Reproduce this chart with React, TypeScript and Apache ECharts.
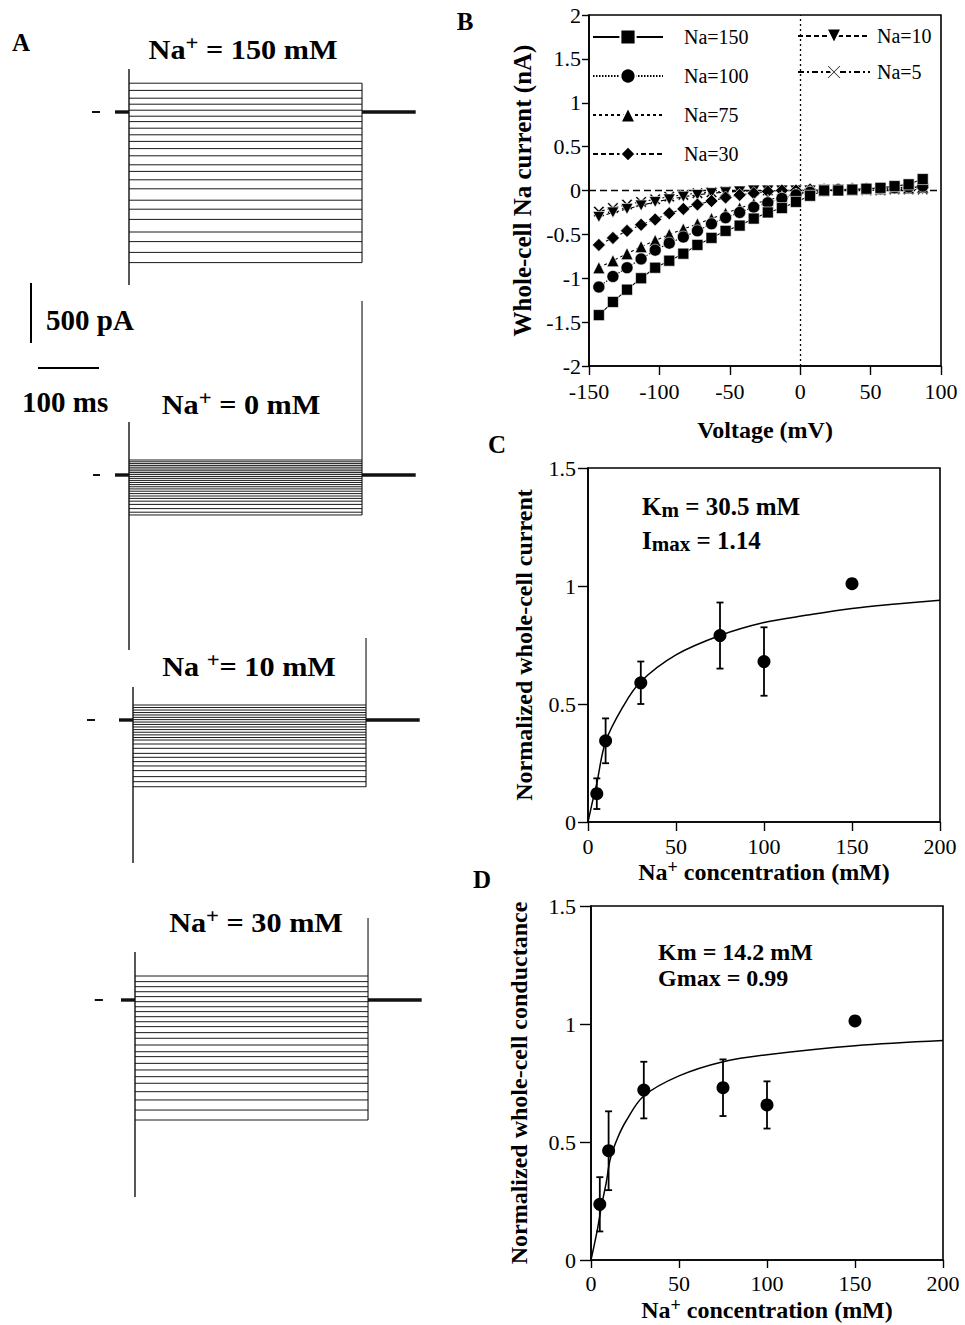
import React, { useEffect, useRef } from "react";
import * as echarts from "echarts";

const FONT = "'Liberation Serif', 'Times New Roman', Times, serif";

// ---------------- Panel B : current-voltage relations (nA) ----------------
const VOLTAGES = [-143, -133, -123, -113, -103, -93, -83, -73, -63, -53, -43, -33, -23, -13, -3, 7, 17, 27, 37, 47, 57, 67, 77, 87];
const I_NA150 = [-1.42, -1.27, -1.13, -1.0, -0.88, -0.8, -0.72, -0.62, -0.54, -0.46, -0.4, -0.32, -0.25, -0.2, -0.13, -0.06, 0.0, 0.0, 0.01, 0.02, 0.03, 0.05, 0.07, 0.13];
const I_NA100 = [-1.1, -0.98, -0.88, -0.78, -0.68, -0.6, -0.53, -0.46, -0.38, -0.31, -0.25, -0.19, -0.14, -0.09, -0.05, -0.02, 0.0, 0.01, 0.01, 0.02, 0.02, 0.03, 0.04, 0.05];
const I_NA75 = [-0.88, -0.8, -0.72, -0.64, -0.57, -0.5, -0.44, -0.38, -0.32, -0.26, -0.2, -0.15, -0.11, -0.07, -0.04, -0.01, 0.0, 0.01, 0.01, 0.02, 0.02, 0.03, 0.03, 0.04];
const I_NA30 = [-0.62, -0.54, -0.46, -0.39, -0.33, -0.26, -0.21, -0.16, -0.12, -0.08, -0.05, -0.03, -0.01, 0.0, 0.0, 0.01, 0.01, 0.01, 0.02, 0.02, 0.02, 0.03, 0.03, 0.03];
const I_NA10 = [-0.3, -0.25, -0.21, -0.17, -0.13, -0.1, -0.07, -0.05, -0.03, -0.02, -0.01, 0.0, 0.0, 0.0, 0.0, 0.0, 0.01, 0.01, 0.01, 0.01, 0.01, 0.02, 0.02, 0.02];
const I_NA5 = [-0.24, -0.2, -0.16, -0.13, -0.1, -0.07, -0.05, -0.03, -0.02, -0.01, -0.01, 0.0, 0.0, 0.0, 0.0, 0.0, 0.0, 0.0, 0.0, 0.0, 0.0, 0.01, 0.01, 0.01];

// ---------------- Panel C : normalized current ----------------
const CONC = [5, 10, 30, 75, 100, 150];
const CURRENT_MEAN = [0.12, 0.344, 0.59, 0.79, 0.68, 1.01];
const CURRENT_ERR = [0.065, 0.095, 0.09, 0.14, 0.145, 0];
const FIT_C_X = [0, 2.5, 5, 10, 20, 30, 50, 75, 100, 125, 150, 175, 200];
const FIT_C_Y = [0, 0.085, 0.164, 0.34, 0.49, 0.595, 0.708, 0.79, 0.845, 0.877, 0.905, 0.924, 0.94];

// ---------------- Panel D : normalized conductance ----------------
const COND_MEAN = [0.236, 0.463, 0.72, 0.73, 0.657, 1.013];
const COND_ERR = [0.115, 0.167, 0.12, 0.12, 0.1, 0];
const FIT_D_X = [0, 3.4, 6, 8.7, 11, 15, 20, 30, 50, 75, 100, 150, 200];
const FIT_D_Y = [0, 0.12, 0.23, 0.33, 0.43, 0.515, 0.59, 0.695, 0.78, 0.84, 0.87, 0.908, 0.93];

// ---------------- Panel A : current traces (pA, relative to holding) ----------------
const TRACES_NA150 = [240, 180, 115, 65, 15, -35, -80, -135, -190, -245, -305, -365, -440, -495, -565, -640, -735, -810, -895, -1000, -1080, -1170, -1255];
const TRACES_NA0 = [125, 110, 95, 80, 65, 50, 35, 20, 5, -12, -28, -45, -62, -80, -98, -116, -135, -155, -175, -195, -218, -245, -280, -310, -333];
const TRACES_NA10 = [125, 104, 83, 62, 42, 22, 3, -17, -37, -58, -80, -102, -124, -146, -167, -200, -236, -278, -311, -347, -383, -422, -472, -514, -556];
const TRACES_NA30 = [200, 153, 111, 69, 28, -14, -56, -97, -139, -181, -222, -272, -319, -375, -431, -472, -528, -583, -639, -694, -764, -833, -917, -1000];
const SPIKE_NA150 = [358, -1442];
const SPIKE_NA0 = [442, -1458];
const SPIKE_NA10 = [275, -1192];
const SPIKE_NA30 = [400, -1642];
const OFFSPIKE_NA0 = 1450;
const OFFSPIKE_NA10 = 683;
const OFFSPIKE_NA30 = 683;
const ZERO_MARK_NA150 = [-35.7, -22.5];
const ZERO_MARK_NA0 = [-34, -22.5];
const ZERO_MARK_NA10 = [-50.4, -37.3];
const ZERO_MARK_NA30 = [-41, -27.6];
const T_PRE = 2; // ms
const T_ON = 25;
const T_OFF = 407;
const T_POST = 495;
const SCALE_PA = 500;
const SCALE_MS = 100;

// layout constants (pixels)
const PX_PER_MS = 0.61;
const PX_PER_PA = 0.12;
const A_XMIN = -60;
const A_XMAX = 500;

const X_PATH = "path://M0,1.2 L1.2,0 L5,3.8 L8.8,0 L10,1.2 L6.2,5 L10,8.8 L8.8,10 L5,6.2 L1.2,10 L0,8.8 L3.8,5 Z";
const DOWN_TRI = "path://M0,0 L10,0 L5,9 Z";

const RICH_TITLE = {
  b: { fontFamily: FONT, fontSize: 28, fontWeight: "bold", fill: "#000", color: "#000", lineHeight: 30, verticalAlign: "bottom" },
  sup: { fontFamily: FONT, fontSize: 21, fontWeight: "bold", fill: "#000", color: "#000", lineHeight: 21, padding: [0, 0, 9, 0], verticalAlign: "top" },
};
const RICH_NAME = {
  b: { fontFamily: FONT, fontSize: 24, fontWeight: "bold", color: "#000", lineHeight: 26, verticalAlign: "bottom" },
  sup: { fontFamily: FONT, fontSize: 18, fontWeight: "bold", color: "#000", lineHeight: 18, padding: [0, 0, 9, 0], verticalAlign: "top" },
};
const RICH_SUB = {
  b: { fontFamily: FONT, fontSize: 25, fontWeight: "bold", fill: "#000", color: "#000", lineHeight: 26, verticalAlign: "top" },
  sub: { fontFamily: FONT, fontSize: 21, fontWeight: "bold", fill: "#000", color: "#000", lineHeight: 21, padding: [11, 0, 0, 0], verticalAlign: "bottom" },
};

function valueAxis(o: any) {
  return {
    type: "value",
    gridIndex: o.grid,
    min: o.min,
    max: o.max,
    interval: o.interval,
    name: o.name,
    nameLocation: "middle",
    nameGap: o.nameGap,
    nameTextStyle: { fontFamily: FONT, fontSize: o.nameSize || 24, fontWeight: "bold", color: "#000", rich: RICH_NAME },
    axisLine: { show: true, onZero: false, lineStyle: { color: "#000", width: 1.6 } },
    axisTick: { show: true, inside: false, length: o.tickLen, lineStyle: { color: "#000", width: 1.4 } },
    axisLabel: { fontFamily: FONT, fontSize: 22, color: "#000", margin: o.labelMargin },
    splitLine: { show: false },
  };
}

function errRender(params: any, api: any) {
  const x = api.value(0);
  const top = api.coord([x, api.value(2)]);
  const bot = api.coord([x, api.value(1)]);
  const w = 3.5;
  const st = { stroke: "#000", lineWidth: 1.8 };
  return {
    type: "group",
    children: [
      { type: "line", shape: { x1: top[0], y1: top[1], x2: bot[0], y2: bot[1] }, style: st },
      { type: "line", shape: { x1: top[0] - w, y1: top[1], x2: top[0] + w, y2: top[1] }, style: st },
      { type: "line", shape: { x1: bot[0] - w, y1: bot[1], x2: bot[0] + w, y2: bot[1] }, style: st },
    ],
  };
}

function textEl(text: string, x: number, y: number, size: number, align = "left", extra: any = {}) {
  return {
    type: "text",
    x,
    y,
    silent: true,
    ...extra,
    style: {
      text,
      fontFamily: FONT,
      fontSize: size,
      fontWeight: "bold",
      fill: "#000",
      align,
      textAlign: align,
      verticalAlign: "middle",
      textVerticalAlign: "middle",
      ...(extra.style || {}),
    },
  };
}

function buildOption() {
  const grids: any[] = [
    { left: 589, top: 15, width: 352, height: 351 },
    { left: 588, top: 468, width: 352, height: 354 },
    { left: 591, top: 906, width: 352, height: 354 },
  ].map((g) => ({ ...g, show: true, borderColor: "#000", borderWidth: 1.6, backgroundColor: "transparent" }));

  const xAxes: any[] = [
    valueAxis({ grid: 0, min: -150, max: 100, interval: 50, name: "Voltage (mV)", nameGap: 52, tickLen: 9, labelMargin: 14 }),
    valueAxis({ grid: 1, min: 0, max: 200, interval: 50, name: "{b|Na}{sup|+}{b| concentration (mM)}", nameGap: 33, tickLen: 9, labelMargin: 13 }),
    valueAxis({ grid: 2, min: 0, max: 200, interval: 50, name: "{b|Na}{sup|+}{b| concentration (mM)}", nameGap: 36, tickLen: 8, labelMargin: 12 }),
  ];
  const yAxes: any[] = [
    valueAxis({ grid: 0, min: -2, max: 2, interval: 0.5, name: "Whole-cell Na current (nA)", nameGap: 54, tickLen: 7, labelMargin: 8, nameSize: 25 }),
    valueAxis({ grid: 1, min: 0, max: 1.5, interval: 0.5, name: "Normalized whole-cell current", nameGap: 52, tickLen: 10, labelMargin: 12 }),
    valueAxis({ grid: 2, min: 0, max: 1.5, interval: 0.5, name: "Normalized whole-cell conductance", nameGap: 60, tickLen: 11, labelMargin: 15 }),
  ];

  const series: any[] = [];

  // ---- Panel B ----
  const bDefs = [
    { name: "Na=5", data: I_NA5, symbol: X_PATH, size: 11, dash: [6, 3, 2, 3] },
    { name: "Na=10", data: I_NA10, symbol: DOWN_TRI, size: 12, dash: [5, 3] },
    { name: "Na=30", data: I_NA30, symbol: "diamond", size: 13, dash: [5, 3] },
    { name: "Na=75", data: I_NA75, symbol: "triangle", size: 12, dash: [3, 3] },
    { name: "Na=100", data: I_NA100, symbol: "circle", size: 12, dash: [1.5, 1.5] },
    { name: "Na=150", data: I_NA150, symbol: "rect", size: 11, dash: "solid" },
  ];
  bDefs.forEach((d, i) => {
    const s: any = {
      type: "line",
      name: d.name,
      xAxisIndex: 0,
      yAxisIndex: 0,
      data: VOLTAGES.map((v, k) => [v, d.data[k]]),
      symbol: d.symbol,
      symbolSize: d.size,
      symbolKeepAspect: true,
      showSymbol: true,
      color: "#000",
      itemStyle: { color: "#000", borderColor: "#fff", borderWidth: 0.6, opacity: 1 },
      lineStyle: { color: "#000", width: 1.1, type: d.dash },
      silent: true,
      z: 3 + i,
    };
    if (i === 0) {
      s.markLine = {
        silent: true,
        symbol: ["none", "none"],
        label: { show: false },
        z: 1,
        data: [
          { yAxis: 0, lineStyle: { color: "#000", type: [7, 4], width: 1.3 } },
          { xAxis: 0, lineStyle: { color: "#000", type: [2, 3], width: 1.3 } },
        ],
      };
    }
    series.push(s);
  });

  // ---- Panels C & D ----
  const cdDefs = [
    { axis: 1, mean: CURRENT_MEAN, err: CURRENT_ERR, fx: FIT_C_X, fy: FIT_C_Y },
    { axis: 2, mean: COND_MEAN, err: COND_ERR, fx: FIT_D_X, fy: FIT_D_Y },
  ];
  cdDefs.forEach((d) => {
    series.push({
      type: "line",
      xAxisIndex: d.axis,
      yAxisIndex: d.axis,
      data: d.fx.map((x, k) => [x, d.fy[k]]),
      smooth: 0.35,
      symbol: "none",
      lineStyle: { color: "#000", width: 1.5 },
      silent: true,
      z: 2,
    });
    series.push({
      type: "custom",
      xAxisIndex: d.axis,
      yAxisIndex: d.axis,
      data: CONC.map((c, k) => [c, d.mean[k] - d.err[k], d.mean[k] + d.err[k]]).filter((_, k) => d.err[k] > 0),
      encode: { x: 0, y: [1, 2] },
      renderItem: errRender,
      silent: true,
      z: 3,
    });
    series.push({
      type: "scatter",
      xAxisIndex: d.axis,
      yAxisIndex: d.axis,
      data: CONC.map((c, k) => [c, d.mean[k]]),
      symbol: "circle",
      symbolSize: 13,
      itemStyle: { color: "#000", opacity: 1 },
      silent: true,
      z: 4,
    });
  });

  // ---- Panel A ----
  const aGroups = [
    { levels: TRACES_NA150, spike: SPIKE_NA150, off: null as number | null, mark: ZERO_MARK_NA150, onX: 129, baseY: 112, yMin: -1500, yMax: 500 },
    { levels: TRACES_NA0, spike: SPIKE_NA0, off: OFFSPIKE_NA0, mark: ZERO_MARK_NA0, onX: 129, baseY: 475, yMin: -1500, yMax: 1500 },
    { levels: TRACES_NA10, spike: SPIKE_NA10, off: OFFSPIKE_NA10, mark: ZERO_MARK_NA10, onX: 133, baseY: 720, yMin: -1250, yMax: 750 },
    { levels: TRACES_NA30, spike: SPIKE_NA30, off: OFFSPIKE_NA30, mark: ZERO_MARK_NA30, onX: 135, baseY: 1000, yMin: -1750, yMax: 750 },
  ];
  const seg = (gi: number, data: number[][], width: number, color = "#111") => ({
    type: "line",
    xAxisIndex: gi,
    yAxisIndex: gi,
    data,
    symbol: "none",
    clip: false,
    silent: true,
    lineStyle: { color, width },
    z: 2,
  });
  aGroups.forEach((g, k) => {
    const gi = 3 + k;
    grids.push({
      show: false,
      left: g.onX - (T_ON - A_XMIN) * PX_PER_MS,
      top: g.baseY - g.yMax * PX_PER_PA,
      width: (A_XMAX - A_XMIN) * PX_PER_MS,
      height: (g.yMax - g.yMin) * PX_PER_PA,
    });
    xAxes.push({ type: "value", gridIndex: gi, min: A_XMIN, max: A_XMAX, show: false });
    yAxes.push({ type: "value", gridIndex: gi, min: g.yMin, max: g.yMax, show: false });
    g.levels.forEach((lv) => series.push(seg(gi, [[T_ON, lv], [T_OFF, lv]], 1, "#1a1a1a")));
    const hi = Math.max(...g.levels);
    const lo = Math.min(...g.levels);
    series.push(seg(gi, [[T_ON, g.spike[0]], [T_ON, g.spike[1]]], 1.4));
    series.push(seg(gi, [[T_OFF, g.off !== null ? g.off : hi], [T_OFF, lo]], 1.1));
    series.push(seg(gi, [[T_PRE, 0], [T_ON, 0]], 3.4));
    series.push(seg(gi, [[T_OFF, 0], [T_POST, 0]], 3.4));
    series.push(seg(gi, [[g.mark[0], 0], [g.mark[1], 0]], 2));
  });

  // scale bars
  const sg = grids.length;
  grids.push({ show: false, left: 31, top: 283, width: 120 * PX_PER_MS, height: 1000 * PX_PER_PA });
  xAxes.push({ type: "value", gridIndex: sg, min: 0, max: 120, show: false });
  yAxes.push({ type: "value", gridIndex: sg, min: -1000, max: 0, show: false });
  series.push(seg(sg, [[0, 0], [0, -SCALE_PA]], 2, "#000"));
  series.push(seg(sg, [[11.5, -708], [11.5 + SCALE_MS, -708]], 2, "#000"));

  const title = (a: string, sup: string, b: string, x: number, y: number) => ({
    type: "text",
    x,
    y,
    scaleX: 1.08,
    silent: true,
    style: {
      text: `{b|${a}}{sup|${sup}}{b|${b}}`,
      rich: RICH_TITLE,
      align: "center",
      textAlign: "center",
      verticalAlign: "middle",
      textVerticalAlign: "middle",
    },
  });
  const subText = (a: string, sub: string, b: string, x: number, y: number) => ({
    type: "text",
    x,
    y,
    silent: true,
    style: {
      text: `{b|${a}}{sub|${sub}}{b|${b}}`,
      rich: RICH_SUB,
      align: "left",
      textAlign: "left",
      verticalAlign: "middle",
      textVerticalAlign: "middle",
    },
  });

  const graphic: any[] = [
    textEl("A", 21, 42, 25, "center"),
    textEl("B", 465, 21, 25, "center"),
    textEl("C", 497, 444, 25, "center"),
    textEl("D", 482, 879, 25, "center"),
    title("Na", "+", " = 150 mM", 243, 48),
    title("Na", "+", " = 0 mM", 241, 403),
    title("Na ", "+", "= 10 mM", 249, 665),
    title("Na", "+", " = 30 mM", 256, 921),
    textEl("500 pA", 46, 320, 29),
    textEl("100 ms", 22, 402, 29),
    subText("K", "m", " = 30.5 mM", 642, 507),
    subText("I", "max", " = 1.14", 642, 541),
    textEl("Km = 14.2 mM", 658, 952, 24),
    textEl("Gmax = 0.99", 658, 978, 24),
  ];

  return {
    animation: false,
    backgroundColor: "#fff",
    textStyle: { fontFamily: FONT },
    grid: grids,
    xAxis: xAxes,
    yAxis: yAxes,
    legend: [
      {
        data: ["Na=150", "Na=100", "Na=75", "Na=30"],
        orient: "vertical",
        left: 592,
        top: 27,
        padding: 0,
        itemWidth: 70,
        itemHeight: 19,
        itemGap: 19,
        selectedMode: false,
        textStyle: { fontFamily: FONT, fontSize: 20, color: "#000", padding: [0, 0, 0, 16] },
      },
      {
        data: ["Na=10", "Na=5"],
        orient: "vertical",
        left: 797,
        top: 26,
        padding: 0,
        itemWidth: 72,
        itemHeight: 19,
        itemGap: 16,
        selectedMode: false,
        textStyle: { fontFamily: FONT, fontSize: 20, color: "#000", padding: [0, 0, 0, 2] },
      },
    ],
    graphic,
    series,
  };
}

export default function App() {
  const ref = useRef<HTMLDivElement>(null);
  useEffect(() => {
    if (!ref.current) return;
    const chart = echarts.init(ref.current, undefined, { renderer: "svg" });
    chart.setOption(buildOption() as any);
    return () => chart.dispose();
  }, []);
  return (
    <div
      ref={ref}
      style={{ position: "absolute", left: 0, top: 0, width: 965, height: 1325, background: "#fff" }}
    />
  );
}
